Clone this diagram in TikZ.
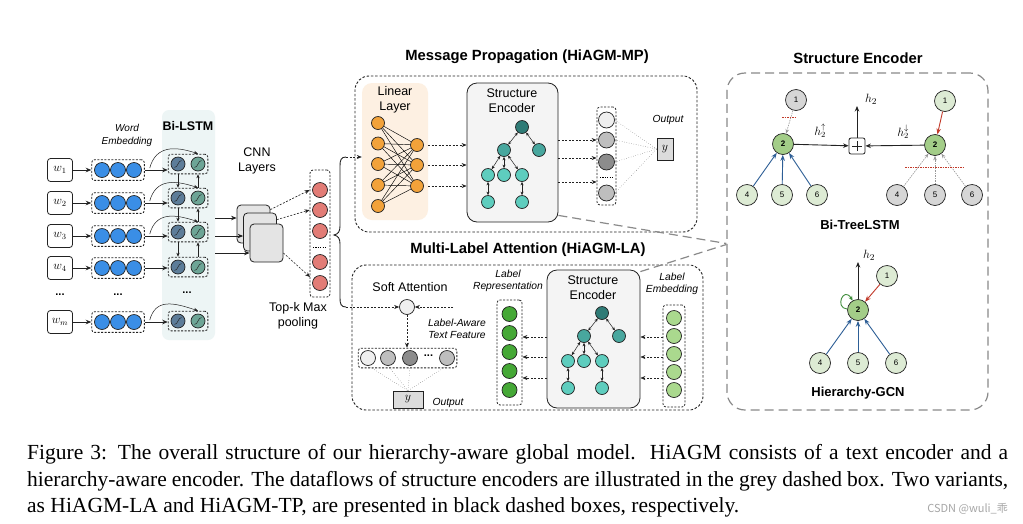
\documentclass[tikz,border=0pt]{standalone}
\usepackage{fontspec}
\setmainfont{Liberation Serif}
\setsansfont{Liberation Sans}
\newfontfamily\cjkfont{Noto Sans CJK SC}
\usetikzlibrary{arrows.meta,fit,calc}

\definecolor{lstmbg}{HTML}{EDF5F5}
\definecolor{embblue}{HTML}{3A8EE6}
\definecolor{lstmA}{HTML}{5D7D99}
\definecolor{lstmB}{HTML}{6DA596}
\definecolor{cnngray}{HTML}{E4E4E4}
\definecolor{salmon}{HTML}{E27C76}
\definecolor{orangeN}{HTML}{F2A23A}
\definecolor{peach}{HTML}{FDF0E2}
\definecolor{segray}{HTML}{F4F4F4}
\definecolor{tree0}{HTML}{2F7B76}
\definecolor{tree1}{HTML}{48A79E}
\definecolor{tree2}{HTML}{5ECDBE}
\definecolor{gA}{HTML}{EFEFEF}
\definecolor{gB}{HTML}{BEBEBE}
\definecolor{gC}{HTML}{8C8C8C}
\definecolor{yboxc}{HTML}{DCDCDC}
\definecolor{greenN}{HTML}{45A836}
\definecolor{lgreenN}{HTML}{AAD98E}
\definecolor{panelgray}{HTML}{8A8A8A}
\definecolor{ngreen}{HTML}{A3CD88}
\definecolor{nlgreen}{HTML}{DDEBD4}
\definecolor{ngray}{HTML}{D6D6D6}
\definecolor{eblue}{HTML}{2D5E96}
\definecolor{ered}{HTML}{C23A2A}
\definecolor{egreen}{HTML}{3E8C3A}
\definecolor{outl}{HTML}{222222}

\tikzset{
  circ/.style={circle, draw=outl, line width=0.7pt, inner sep=0pt, minimum size=#1},
  circ/.default=14,
  sig/.style={path picture={\draw[line width=0.45pt] ([shift={(-3.5pt,-3.5pt)}]path picture bounding box.center) .. controls +(3.5pt,0pt) and +(-3.5pt,0pt) .. ([shift={(3.5pt,3.5pt)}]path picture bounding box.center);}},
  dbox/.style={draw=outl, line width=0.8pt, dash pattern=on 2pt off 1.5pt, rounded corners=3pt},
  arr/.style={-{Stealth[length=5.5pt,width=4.5pt]}, line width=0.7pt, draw=outl},
  sarr/.style={-{Stealth[length=4pt,width=3.2pt]}, line width=0.5pt, draw=outl},
  dotarr/.style={-{Stealth[length=5pt,width=4pt]}, line width=0.6pt, dash pattern=on 2pt off 1.5pt, draw=outl},
  tarr/.style={{Stealth[length=3.5pt,width=3pt]}-{Stealth[length=3.5pt,width=3pt]}, line width=0.5pt, draw=outl},
  fline/.style={line width=0.4pt, dotted, draw=black!70},
  bigbox/.style={draw=outl, line width=0.9pt, dash pattern=on 2.5pt off 1.8pt, rounded corners=14pt},
  sebox/.style={draw=outl, fill=segray, rounded corners=10pt, line width=0.8pt, inner sep=0pt},
  wbox/.style={draw=outl, line width=0.8pt, rounded corners=3pt, minimum width=25pt, minimum height=23pt, inner sep=0pt, font=\fontsize{12}{14}\selectfont},
  cnn/.style={draw=outl, fill=cnngray, rounded corners=4pt, minimum width=33pt, minimum height=38pt, line width=0.8pt},
  ybx/.style={draw=outl, fill=yboxc, line width=0.7pt, inner sep=0pt, font=\fontsize{12}{14}\selectfont},
  ttl/.style={font=\sffamily\bfseries\fontsize{14.8}{17}\selectfont},
  sub/.style={font=\sffamily\bfseries\fontsize{13}{15}\selectfont},
  lbl/.style={font=\sffamily\fontsize{12.5}{15}\selectfont, align=center, inner sep=0pt},
  ilbl/.style={font=\sffamily\itshape\fontsize{10.3}{12}\selectfont, align=center, inner sep=0pt},
  pn/.style={circle, draw=outl, line width=0.7pt, minimum size=21pt, inner sep=0pt, font=\sffamily\fontsize{8}{9}\selectfont},
  garr/.style={-{Stealth[length=4.5pt,width=3.5pt]}, draw=gray!80, line width=0.6pt, dash pattern=on 1.5pt off 1pt},
  barr/.style={-{Stealth[length=6pt,width=4.5pt]}, draw=eblue, line width=0.9pt},
  rarr/.style={-{Stealth[length=6pt,width=4.5pt]}, draw=ered, line width=0.9pt},
  rcut/.style={draw=ered, line width=0.6pt, dash pattern=on 1.5pt off 1pt},
  gdash/.style={draw=panelgray, line width=1.2pt, dash pattern=on 9pt off 5pt}
}

\newcommand\mytree[3]{%
  \begin{scope}[shift={(#2,#3)}]
    \node[circ=13,fill=tree0] (#1r) at (0,0) {};
    \node[circ=13,fill=tree1] (#1a) at (-18,23) {};
    \node[circ=13,fill=tree1] (#1b) at (17,23) {};
    \node[circ=13,fill=tree2] (#1c) at (-34,48) {};
    \node[circ=13,fill=tree2] (#1d) at (-18,48) {};
    \node[circ=13,fill=tree2] (#1e) at (0,48) {};
    \node[circ=13,fill=tree2] (#1f) at (-34,75) {};
    \node[circ=13,fill=tree2] (#1g) at (0,75) {};
    \draw[tarr] (#1r) -- (#1a);
    \draw[tarr] (#1r) -- (#1b);
    \draw[tarr] (#1a) -- (#1c);
    \draw[tarr] (#1a) -- (#1d);
    \draw[tarr] (#1a) -- (#1e);
    \draw[tarr] (#1c) -- (#1f);
    \draw[tarr] (#1e) -- (#1g);
  \end{scope}}

\begin{document}
\begin{tikzpicture}[x=1pt,y=-1pt]
\useasboundingbox (0,0) rectangle (1023,523);
\fill[white] (0,0) rectangle (1023,523);

% ---------------- Text encoder ----------------
\node[fill=lstmbg, rounded corners=7pt, minimum width=53pt, minimum height=230pt, inner sep=0pt] (bilstm) at (188.5,225) {};
\node[font=\sffamily\bfseries\fontsize{12.5}{14}\selectfont] (bilstmlbl) at (188,126) {Bi-LSTM};
\node[ilbl, font=\sffamily\itshape\fontsize{10}{13}\selectfont] (welbl) at (127,135.5) {Word\\Embedding};

\foreach \n/\ye/\yl in {1/170/164, 2/203/198, 3/236/232, 4/268/267, m/322/321}{
  \node[wbox] (w\n) at (60,\ye) {$w_{\n}$};
  \node[circ=15,fill=embblue] (ea\n) at (102,\ye) {};
  \node[circ=15,fill=embblue] (eb\n) at (118,\ye) {};
  \node[circ=15,fill=embblue] (ec\n) at (134,\ye) {};
  \node[dbox,fit=(ea\n)(ec\n),inner sep=2.5pt] (E\n) {};
  \node[circ=14,fill=lstmA,sig] (la\n) at (178,\yl) {};
  \node[circ=14,fill=lstmB,sig] (lb\n) at (198,\yl) {};
  \node[dbox,fit=(la\n)(lb\n),inner sep=2.5pt] (L\n) {};
  \draw[arr] (w\n) -- (E\n);
  \draw[arr] (E\n.east) -- (L\n.west |- E\n.east);
}
\foreach \n in {1,2,3,m}{
  \draw[sarr] ([xshift=5pt,yshift=2pt]E\n.east) .. controls +(6,-22) and +(-24,-8) .. (L\n.north -| lb\n);
}
\foreach \p/\q in {1/2,2/3,3/4}{
  \draw[sarr] (L\p.south -| la\p) -- (L\q.north -| la\q);
  \draw[sarr] (L\q.north -| lb\q) -- (L\p.south -| lb\p);
}
\node[font=\sffamily\bfseries\fontsize{11}{12}\selectfont] (dw) at (60,295) {...};
\node[font=\sffamily\bfseries\fontsize{11}{12}\selectfont] (de) at (118,295) {...};
\node[font=\sffamily\bfseries\fontsize{11}{12}\selectfont] (dl) at (187,293) {...};

% CNN
\node[lbl] (cnnlbl) at (257,161) {CNN\\Layers};
\node[cnn] (s1) at (253.5,224) {};
\node[cnn] (s2) at (260,232) {};
\node[cnn] (s3) at (266.5,243) {};
\coordinate (c1) at (215,218);
\coordinate (c2) at (215,236);
\coordinate (c3) at (215,253);
\draw[arr] (c1) -- (s1.west |- c1);
\draw[arr] (c2) -- (s2.west |- c2);
\draw[arr] (c3) -- (s3.west |- c3);

% pooling
\node[dbox, minimum width=20pt, minimum height=127pt, inner sep=0pt] (P) at (320,233.5) {};
\foreach \i/\yy in {1/190,2/210,3/231,4/262,5/283}{
  \node[circ=15,fill=salmon] (pc\i) at (320,\yy) {};
}
\draw[line width=0.8pt, dash pattern=on 1.2pt off 1.2pt] (313,247) -- (327,247);
\coordinate (p5) at (310,277);
\draw[dotarr] ([yshift=-5pt]s1.north east) -- (P.west |- pc1);
\draw[dotarr] ([yshift=-7pt]s2.north east) -- (P.west |- pc2);
\draw[dotarr] ([yshift=-10pt]s3.east) -- (p5);
\node[lbl] (poollbl) at (298,315.5) {Top-k Max\\pooling};

% brace
\draw[line width=0.9pt, draw=outl] (346,157) .. controls (341,157) and (340,160) .. (340,166) -- (340,226) .. controls (340,232) and (338,234) .. (334,235) .. controls (338,236) and (340,238) .. (340,244) -- (340,298) .. controls (340,304) and (341,307) .. (346,307);
\coordinate (bt) at (346,157);
\coordinate (bb) at (346,307);

% ---------------- Message Propagation ----------------
\node[ttl] (mptitle) at (527,57) {Message Propagation (HiAGM-MP)};
\node[bigbox, minimum width=342pt, minimum height=156pt] (MP) at (526,154) {};
\node[fill=peach, rounded corners=10pt, minimum width=66pt, minimum height=137pt, inner sep=0pt] (LL) at (395,151.5) {};
\node[lbl] (lltext) at (395,100) {Linear\\Layer};
\foreach \i/\yy in {1/123,2/143.5,3/164,4/185,5/206}{
  \node[circ=13,fill=orangeN] (ol\i) at (378,\yy) {};
}
\foreach \j/\yy in {1/145,2/165,3/186}{
  \node[circ=13,fill=orangeN] (or\j) at (417,\yy) {};
}
\foreach \i in {1,...,5}{\foreach \j in {1,2,3}{\draw[line width=0.45pt] (ol\i) -- (or\j);}}
\draw[dotarr] (bt) -- (LL.west |- bt);

\node[sebox, minimum width=91pt, minimum height=139pt] (SE1) at (512.5,152.5) {};
\node[lbl] (se1text) at (512,100.5) {Structure\\Encoder};
\mytree{A}{522}{127}
\foreach \j in {1,2,3}{\draw[dotarr] (LL.east |- or\j) -- (SE1.west |- or\j);}

\node[dbox, minimum width=19pt, minimum height=98pt, inner sep=0pt] (O) at (606.5,156) {};
\foreach \i/\yy/\cc in {1/120/gA,2/140/gB,3/162/gC,4/193/gB}{
  \node[circ=16,fill=\cc] (oc\i) at (606.5,\yy) {};
}
\draw[line width=0.8pt, dash pattern=on 1.2pt off 1.2pt] (600,177.5) -- (613,177.5);
\coordinate (qa) at (560,140);
\coordinate (qb) at (560,158);
\coordinate (qc) at (560,182);
\draw[dotarr] (SE1.east |- qa) -- (O.west |- qa);
\draw[dotarr] (SE1.east |- qb) -- (O.west |- qb);
\draw[dotarr] (SE1.east |- qc) -- (O.west |- qc);
\node[ybx, minimum width=16pt, minimum height=22pt] (yb1) at (665,149) {$y$};
\foreach \i in {1,...,4}{\draw[fline] (oc\i.east) -- (yb1.west);}
\node[ilbl] (out1) at (668,120) {Output};

% ---------------- Multi-Label Attention ----------------
\node[ttl] (latitle) at (528,250) {Multi-Label Attention (HiAGM-LA)};
\node[bigbox, minimum width=351pt, minimum height=145pt] (LA) at (527.5,337.5) {};
\node[lbl] (salbl) at (410,287) {Soft Attention};
\node[circ=15,fill=gA] (sa) at (407,307) {};
\draw[dotarr] (bb) -- (sa);
\coordinate (laf) at (453,307);
\draw[dotarr] (laf) -- (sa);
\node[ilbl] (laftext) at (457,329) {Label-Aware\\Text Feature};
\foreach \i/\xx/\cc in {1/368/gA,2/388/gB,3/410/gC,4/447/gB}{
  \node[circ=15,fill=\cc] (fc\i) at (\xx,358) {};
}
\node[dbox,fit=(fc1)(fc4),inner sep=2pt] (F) {};
\node[font=\sffamily\bfseries\fontsize{11}{12}\selectfont] (dfc) at (428.5,356) {...};
\draw[dotarr] (sa) -- (F.north -| sa);
\node[ybx, minimum width=30pt, minimum height=17pt] (yb2) at (408,399.5) {$y$};
\foreach \i in {1,...,4}{\draw[fline] (fc\i.south) -- (yb2.north);}
\node[ilbl] (out2) at (448,403) {Output};

\node[ilbl] (lrtext) at (508,281) {Label\\Representation};
\node[dbox, minimum width=25pt, minimum height=105pt, inner sep=0pt] (LR) at (509.5,352.5) {};
\foreach \i/\yy in {1/314,2/333,3/352,4/371,5/390}{
  \node[circ=15,fill=greenN] (lr\i) at (509.5,\yy) {};
}
\node[sebox, minimum width=93pt, minimum height=138pt] (SE2) at (593.5,339) {};
\node[lbl] (se2text) at (593,287.5) {Structure\\Encoder};
\mytree{B}{602}{313}
\coordinate (ra) at (540,337);
\coordinate (rb) at (540,357);
\coordinate (rc) at (540,378);
\foreach \c in {ra,rb,rc}{\draw[dotarr] (SE2.west |- \c) -- (LR.east |- \c);}

\node[ilbl] (letext) at (672,283.5) {Label\\Embedding};
\node[dbox, minimum width=22pt, minimum height=102pt, inner sep=0pt] (LE) at (674,356) {};
\foreach \i/\yy in {1/318,2/336,3/354,4/372,5/390}{
  \node[circ=15,fill=lgreenN] (le\i) at (674,\yy) {};
}
\foreach \c in {ra,rb,rc}{\draw[dotarr] (LE.west |- \c) -- (SE2.east |- \c);}

% ---------------- Structure Encoder panel ----------------
\node[ttl] (sptitle) at (858,58) {Structure Encoder};
\node[draw=panelgray, line width=1.2pt, dash pattern=on 9pt off 5pt, rounded corners=18pt, minimum width=261pt, minimum height=337pt, inner sep=0pt] (SP) at (857.5,241.5) {};
\draw[gdash] ([yshift=7pt]SE1.south east) -- ([yshift=-2pt]SP.west);
\draw[gdash] ([yshift=-2pt]SE2.north east) -- ([yshift=-3pt]SP.west);

% Bi-TreeLSTM left
\node[pn, fill=ngray] (a1) at (796,100) {1};
\node[pn, fill=ngreen, font=\sffamily\bfseries\fontsize{8}{9}\selectfont] (a2) at (783,144) {2};
\node[pn, fill=nlgreen] (a4) at (747,195) {4};
\node[pn, fill=nlgreen] (a5) at (782,195) {5};
\node[pn, fill=nlgreen] (a6) at (817,195) {6};
\draw[garr] (a1) -- (a2);
\draw[rcut] (782,117) -- (797,117);
\foreach \k in {4,5,6}{\draw[barr] (a\k) -- (a2);}
\node[draw=outl, line width=0.8pt, rounded corners=2pt, minimum size=16pt, inner sep=0pt,
  path picture={\draw[line width=0.8pt] ([xshift=-5pt]path picture bounding box.center) -- ([xshift=5pt]path picture bounding box.center);
  \draw[line width=0.8pt] ([yshift=-5pt]path picture bounding box.center) -- ([yshift=5pt]path picture bounding box.center);}] (pl) at (857,146) {};
\draw[arr, line width=0.9pt] (a2) -- (pl);
\node[font=\fontsize{12}{14}\selectfont] (hup) at (820,131) {$h_2^{\uparrow}$};
\coordinate (hc) at (857,106);
\draw[arr, line width=1pt] (pl) -- (hc);
\node[font=\fontsize{13}{15}\selectfont] (hlbl) at (871,99) {$h_2$};

% Bi-TreeLSTM right
\node[pn, fill=nlgreen] (b1) at (945,101) {1};
\node[pn, fill=ngreen, font=\sffamily\bfseries\fontsize{8}{9}\selectfont] (b2) at (935,145) {2};
\node[pn, fill=ngray] (b4) at (897,195) {4};
\node[pn, fill=ngray] (b5) at (935,195) {5};
\node[pn, fill=ngray] (b6) at (972,195) {6};
\draw[rarr] (b1) -- (b2);
\foreach \k in {4,5,6}{\draw[garr] (b\k) -- (b2);}
\draw[rcut] (905,167) -- (965,167);
\draw[arr, line width=0.9pt] (b2) -- (pl);
\node[font=\fontsize{12}{14}\selectfont] (hdown) at (903,132) {$h_2^{\downarrow}$};
\node[sub] (btl) at (860,225) {Bi-TreeLSTM};

% Hierarchy-GCN
\node[pn, fill=ngreen, font=\sffamily\bfseries\fontsize{8}{9}\selectfont] (g2) at (858,310) {2};
\node[pn, fill=nlgreen] (g1) at (887,276) {1};
\node[pn, fill=nlgreen] (g4) at (820,363) {4};
\node[pn, fill=nlgreen] (g5) at (858,363) {5};
\node[pn, fill=nlgreen] (g6) at (896,363) {6};
\coordinate (hg) at (858,262);
\draw[arr, line width=1pt] (g2) -- (hg);
\node[font=\fontsize{13}{15}\selectfont] (hglbl) at (869,255) {$h_2$};
\draw[rarr] (g1) -- (g2);
\foreach \k in {4,5,6}{\draw[barr] (g\k) -- (g2);}
\draw[egreen, line width=0.9pt, -{Stealth[length=4.5pt,width=4pt]}] (g2.175) .. controls +(-13,-1) and +(-9,-15) .. (g2.120);
\node[sub] (gcnl) at (858,393) {Hierarchy-GCN};

% ---------------- Caption ----------------
\node[anchor=base west, inner sep=0pt, font=\rmfamily\fontsize{21.5}{24}\selectfont] (cap1) at (27,459) {\makebox[981pt][s]{Figure 3: The overall structure of our hierarchy-aware global model.\ \ HiAGM consists of a text encoder and a}};
\node[anchor=base west, inner sep=0pt, font=\rmfamily\fontsize{21.5}{24}\selectfont] (cap2) at (27,486) {\makebox[981pt][s]{hierarchy-aware encoder. The dataflows of structure encoders are illustrated in the grey dashed box. Two variants,}};
\node[anchor=base west, inner sep=0pt, font=\rmfamily\fontsize{21.5}{24}\selectfont] (cap3) at (27,512) {as HiAGM-LA and HiAGM-TP, are presented in black dashed boxes, respectively.};
\node[anchor=base east, inner sep=0pt, text=black!35, font=\cjkfont\fontsize{11}{13}\selectfont] (wm) at (1008,512) {CSDN @wuli\_乖};
\end{tikzpicture}
\end{document}
